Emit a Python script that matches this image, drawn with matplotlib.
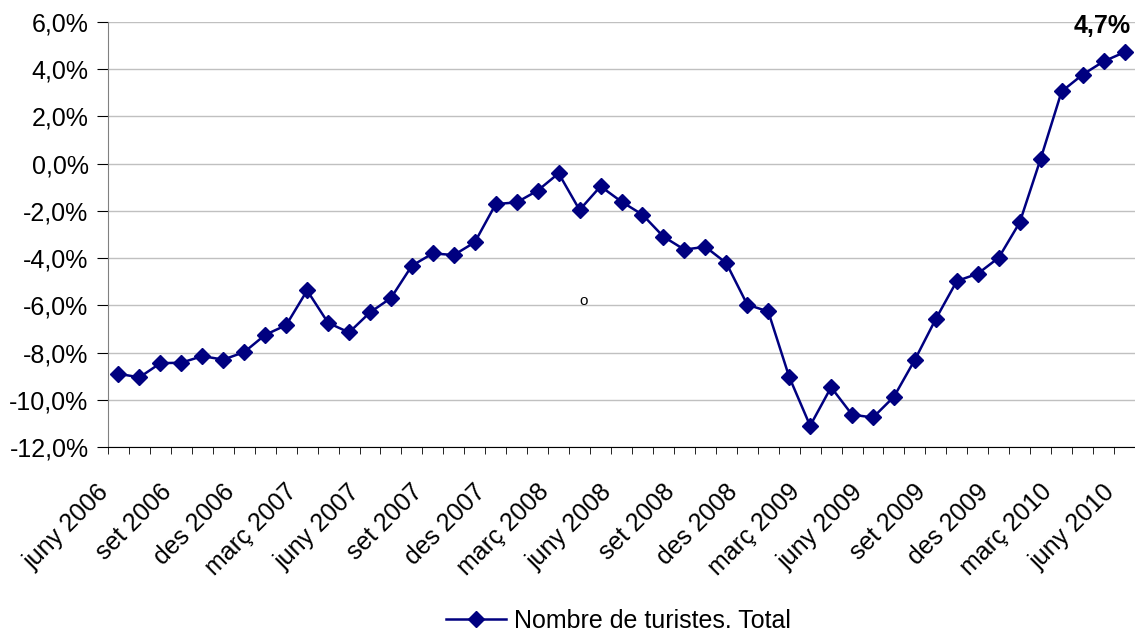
import numpy as np
import matplotlib
matplotlib.use('Agg')
import matplotlib.pyplot as plt
import matplotlib.transforms as mtransforms
from matplotlib.ticker import FixedLocator, FuncFormatter

plt.rcParams['font.family'] = ['Liberation Sans', 'DejaVu Sans']

# Monthly series, juny 2006 .. juny 2010 (% variation)
valors = [-8.9, -9.05, -8.45, -8.43, -8.15, -8.3, -7.98, -7.25, -6.84, -5.37,
          -6.74, -7.15, -6.3, -5.69, -4.32, -3.8, -3.87, -3.33, -1.71, -1.64,
          -1.14, -0.41, -1.96, -0.96, -1.61, -2.16, -3.09, -3.64, -3.52, -4.21,
          -5.97, -6.26, -9.03, -11.1, -9.47, -10.63, -10.75, -9.87, -8.3, -6.57,
          -4.97, -4.66, -3.98, -2.49, 0.21, 3.06, 3.77, 4.33, 4.72]
etiquetes = ['juny 2006', 'set 2006', 'des 2006', 'març 2007', 'juny 2007',
             'set 2007', 'des 2007', 'març 2008', 'juny 2008', 'set 2008',
             'des 2008', 'març 2009', 'juny 2009', 'set 2009', 'des 2009',
             'març 2010', 'juny 2010']
serie = 'Nombre de turistes. Total'
ultim = '4,7%'

FS = 18
x = np.arange(len(valors))
fig = plt.figure(figsize=(11.35, 6.35), dpi=100)
ax = fig.add_axes([108 / 1135, 1 - 447 / 635, 1 - 108 / 1135, (447 - 22) / 635])

line, = ax.plot(x, valors, color='#000080', lw=1.8, marker='D', ms=8,
                markeredgecolor='#000080', markerfacecolor='#000080',
                label=serie)

ax.set_ylim(-12, 6)
ax.set_yticks(np.arange(-12, 6.1, 2))
ax.yaxis.set_major_formatter(FuncFormatter(lambda v, p: f'{v:.1f}%'.replace('.', ',')))
ax.yaxis.grid(True, color='#c0c0c0', lw=1)
ax.set_axisbelow(True)

# label every third month, tick marks on every category boundary
ax.set_xticks(x[::3])
ax.set_xticklabels(etiquetes, rotation=45, ha='right', va='top',
                   rotation_mode='anchor')
ax.xaxis.set_minor_locator(FixedLocator(np.arange(-0.5, len(valors), 1)))
ax.set_xlim(-0.5, len(valors) - 0.5)
ax.tick_params(axis='x', which='major', length=0, pad=23.5, labelsize=FS)
ax.tick_params(axis='x', which='minor', length=5, color='black')
ax.tick_params(axis='y', length=8, labelsize=FS, pad=6)
shift = mtransforms.ScaledTranslation(-22 / 100, 0, fig.dpi_scale_trans)
for lab in ax.get_xticklabels():
    lab.set_transform(lab.get_transform() + shift)

for s in ['top', 'right']:
    ax.spines[s].set_visible(False)
ax.spines['left'].set_color('#808080')
ax.spines['bottom'].set_color('black')

ax.annotate(ultim, (x[-1], valors[-1]), xytext=(-22, 26), textcoords='offset pixels',
            ha='center', va='center', fontsize=FS, fontweight='bold')
ax.text(22.2, -5.8, 'o', ha='center', va='center', fontsize=11)

fig.legend(handles=[line], loc='center', bbox_to_anchor=(0.545, 0.022),
           frameon=False, fontsize=FS, handlelength=2.4, handletextpad=0.3)

fig.savefig('out.png', dpi=100)
